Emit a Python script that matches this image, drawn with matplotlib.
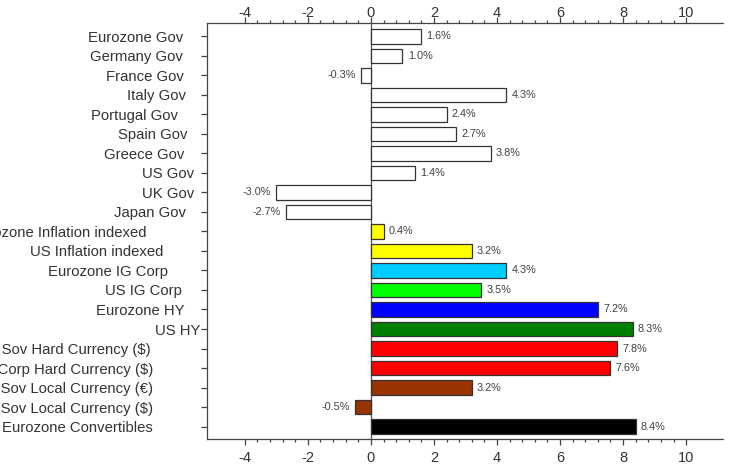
import matplotlib
matplotlib.use("Agg")
import matplotlib.pyplot as plt
import matplotlib.transforms as mtransforms
import numpy as np

plt.rcParams['font.family'] = ['Liberation Sans', 'DejaVu Sans']
plt.rcParams['axes.unicode_minus'] = False

categories = [
    "Eurozone Gov", "Germany Gov", "France Gov", "Italy Gov", "Portugal Gov",
    "Spain Gov", "Greece Gov", "US Gov", "UK Gov", "Japan Gov",
    "Eurozone Inflation indexed", "US Inflation indexed", "Eurozone IG Corp",
    "US IG Corp", "Eurozone HY", "US HY", "EM Sov Hard Currency ($)",
    "EM Corp Hard Currency ($)", "EM Sov Local Currency (\u20ac)",
    "EM Sov Local Currency ($)", "Eurozone Convertibles",
]
returns = [1.6, 1.0, -0.3, 4.3, 2.4, 2.7, 3.8, 1.4, -3.0, -2.7,
           0.4, 3.2, 4.3, 3.5, 7.2, 8.3, 7.8, 7.6, 3.2, -0.5, 8.4]
bar_colors = ["white"] * 10 + ["#ffff00", "#ffff00", "#00ccff", "#00ff00",
              "#0000ff", "#008000", "#ff0000", "#ff0000", "#993300",
              "#993300", "#000000"]
# extra gap (px) between each label and its tick, as in the original
label_gap = [19, 19, 18, 16, 24, 15, 18, 8, 8, 16,
             56, 39, 34, 20, 18, 1.5, 51, 49, 49, 49, 49]

fig = plt.figure(figsize=(7.31, 4.68), dpi=100)
ax = fig.add_axes([207 / 731, 1 - 439 / 468, (723 - 207) / 731, (439 - 23) / 468])

y = np.arange(len(categories))
ax.barh(y, returns, height=0.75, color=bar_colors, edgecolor="#333333",
        linewidth=0.9, zorder=2)

for yi, v in zip(y, returns):
    ax.annotate(f"{v:.1f}%", (v, yi), xytext=(3.8 if v >= 0 else -3.8, 0),
                textcoords="offset points", ha="left" if v >= 0 else "right",
                va="center", fontsize=7.8, color="#404040")

ax.axvline(0, color="#555555", lw=0.9, zorder=1)

ax.set_xlim(-5.2, 11.17)
ax.set_ylim(len(categories) - 1 + 0.64, -0.69)

ax.set_yticks(y)
ax.set_yticklabels(categories, fontsize=10.7, color="#333333")
ax.tick_params(axis="y", length=4, pad=-0.4, color="#444444", width=0.9)
for lab, g in zip(ax.get_yticklabels(), label_gap):
    lab.set_transform(lab.get_transform() +
                      mtransforms.ScaledTranslation(-g / 100, 0, fig.dpi_scale_trans))

major = np.arange(-4, 11, 2)
minor = np.arange(-4, 10.01, 0.4)
ax.set_xticks(major)
ax.set_xticks(minor, minor=True)
ax.tick_params(axis="x", which="major", length=4, width=0.9, pad=5,
               labelsize=10.5, color="#444444", labelcolor="#333333")
ax.tick_params(axis="x", which="minor", length=2, width=0.9, color="#444444")

top = ax.secondary_xaxis("top")
top.set_xticks(major)
top.set_xticks(minor, minor=True)
top.tick_params(axis="x", which="major", length=4, width=0.9, pad=-1.6,
                labelsize=10.5, color="#444444", labelcolor="#333333")
top.tick_params(axis="x", which="minor", length=2, width=0.9, color="#444444")
top.spines["top"].set_color("#444444")
top.spines["top"].set_linewidth(0.9)

ax.spines["right"].set_visible(False)
ax.spines["top"].set_visible(False)
for s in ("left", "bottom"):
    ax.spines[s].set_color("#444444")
    ax.spines[s].set_linewidth(0.9)

fig.savefig("out.png", dpi=100)
